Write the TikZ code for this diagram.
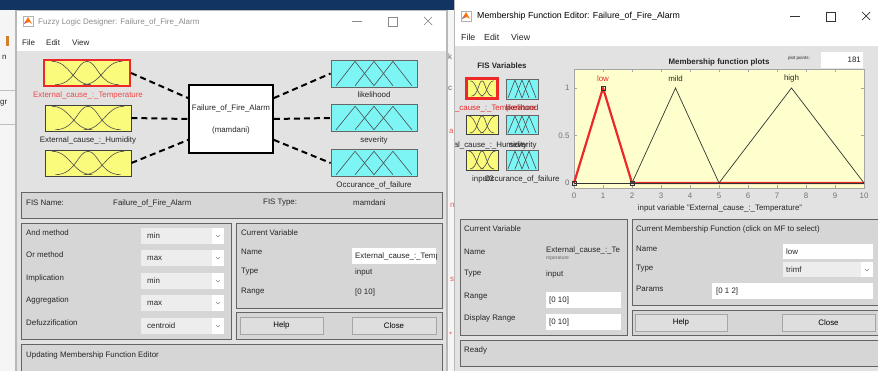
\documentclass[tikz,border=0pt]{standalone}
\usepackage{fontspec}
\setmainfont{Liberation Sans}
\usetikzlibrary{calc}
\definecolor{navy}{RGB}{18,52,98}
\definecolor{bodygray}{RGB}{226,226,226}
\definecolor{panelgray}{RGB}{214,214,214}
\definecolor{edgegray}{RGB}{100,100,100}
\definecolor{mfyellow}{RGB}{250,250,125}
\definecolor{mfcyan}{RGB}{125,245,245}
\definecolor{plotbg}{RGB}{255,255,206}
\definecolor{selred}{RGB}{236,40,40}
\def\uif{\fontsize{7.9}{9}\selectfont}
\def\lbarf{\fontsize{8}{10}\selectfont}
\def\rbarf{\fontsize{8.8}{10}\selectfont}
\def\inicon(#1,#2,#3,#4){\begin{scope}[shift={(#1,#4)}, xscale={#3-#1}, yscale={#2-#4}]
	\draw[curve] (0.08,0.95) .. controls (0.3,0.95) and (0.32,0.05) .. (0.55,0.05);
	\draw[curve] (0.12,0.05) .. controls (0.36,0.05) and (0.38,0.95) .. (0.5,0.95) .. controls (0.62,0.95) and (0.64,0.05) .. (0.88,0.05);
	\draw[curve] (0.45,0.05) .. controls (0.68,0.05) and (0.7,0.95) .. (0.92,0.95);
	\end{scope}}
\def\outicon(#1,#2,#3,#4){\begin{scope}[shift={(#1,#4)}, xscale={#3-#1}, yscale={#2-#4}]
	\draw[curve] (0.06,0.05) -- (0.28,0.95) -- (0.5,0.05);
	\draw[curve] (0.28,0.05) -- (0.5,0.95) -- (0.72,0.05);
	\draw[curve] (0.5,0.05) -- (0.72,0.95) -- (0.94,0.05);
	\end{scope}}
\def\chev(#1,#2){\draw[black!45, line width=0.5pt] (#1-2,#2-1) -- (#1,#2+1) -- (#1+2,#2-1);}
\def\mlogo(#1,#2){\fill[white] (#1-5,#2-5) rectangle (#1+5,#2+5);
	\draw[black!30] (#1-5,#2-5) rectangle (#1+5,#2+5);
	\fill[orange!90!red] (#1-4,#2+3) -- (#1,#2-4) -- (#1+4,#2+3) -- (#1+1,#2+1) -- cycle;
	\fill[blue!60] (#1-4,#2+3) -- (#1-1,#2) -- (#1-3,#2+1) -- cycle;}

\tikzset{
	txt/.style={anchor=west, inner sep=0pt, font=\uif, text=black!85},
	ctxt/.style={inner sep=0pt, font=\uif, text=black!85},
	panel/.style={draw=edgegray, fill=panelgray, line width=0.9pt},
	editbox/.style={fill=white},
	popbox/.style={fill=black!7},
	btn/.style={draw=black!35, fill=black!13, line width=0.9pt},
	inbox/.style={draw=black!75, fill=mfyellow, line width=0.8pt, inner sep=0pt},
	outbox/.style={draw=black!60, fill=mfcyan, line width=0.8pt, inner sep=0pt},
	curve/.style={draw=black!70, line width=0.6pt},
	conn/.style={line width=2pt, dash pattern=on 6pt off 4pt},
	sel/.style={draw=selred, line width=2.2pt},
	frag/.style={anchor=west, inner sep=0pt, font=\uif, text=selred!80},
}

\begin{document}
\begin{tikzpicture}[x=1pt, y=-1pt]
	\useasboundingbox (0,0) rectangle (878,371);
	%%%%% BACKGROUND %%%%%
	\fill[black!4] (0,0) rectangle (878,371);
	\fill[navy] (0,0) rectangle (455,10);
	\fill[brown!70!orange] (6,36) rectangle (9,46);
	\draw[black!25] (0,90) -- (15,90);
	\draw[black!25] (0,124) -- (15,124);
	\node[txt] (bgn) at (2,57) {n};
	\node[txt] (bggr) at (0,103) {gr};
	
	%%%%% FUZZY LOGIC DESIGNER %%%%%
	\fill[black!28] (15,10) rectangle (448,371);
	\fill[white] (17,11) rectangle (446,51);
	\fill[bodygray] (17,51) rectangle (446,371);
	\mlogo(28,21)
	\node[txt, font=\lbarf, text=black!45] (ltitle) at (38,22) {Fuzzy Logic Designer: Failure\_of\_Fire\_Alarm};
	\draw[black!45, line width=0.7pt] (352,21) -- (362,21);
	\draw[black!45, line width=0.7pt] (388,17) rectangle (397,26);
	\draw[black!45, line width=0.7pt] (424,17) -- (432,25) (424,25) -- (432,17);
	\node[txt, font=\lbarf] (lfile) at (22,43) {File};
	\node[txt, font=\lbarf] (ledit) at (46,43) {Edit};
	\node[txt, font=\lbarf] (lview) at (72,43) {View};
	
	% system diagram
	\node[inbox, sel, fill=mfyellow, minimum width=86, minimum height=26] (in1) at (87,73) {};
	\node[inbox, minimum width=86, minimum height=26] (in2) at (88,118) {};
	\node[inbox, minimum width=86, minimum height=26] (in3) at (88,163) {};
	\inicon(45,60,129,86)
	\inicon(45,105,131,131)
	\inicon(45,150,131,176)
	\node[outbox, minimum width=86, minimum height=27] (out1) at (374,73.5) {};
	\node[outbox, minimum width=86, minimum height=27] (out2) at (374,118) {};
	\node[outbox, minimum width=86, minimum height=27] (out3) at (374,163) {};
	\outicon(331,60,417,87)
	\outicon(331,105,417,131)
	\outicon(331,150,417,176)
	\node[draw, fill=white, line width=1.6pt, minimum width=84, minimum height=68] (sys) at (231,119) {};
	\node[ctxt] (sysname) at (231,108) {Failure\_of\_Fire\_Alarm};
	\node[ctxt] (systype) at (231,130) {(mamdani)};
	\coordinate (sysw1) at ($(sys.north west)!0.2!(sys.south west)$);
	\coordinate (sysw3) at ($(sys.north west)!0.8!(sys.south west)$);
	\coordinate (syse1) at ($(sys.north east)!0.2!(sys.south east)$);
	\coordinate (syse3) at ($(sys.north east)!0.8!(sys.south east)$);
	\draw[conn] (in1.east) -- (sysw1);
	\draw[conn] (in2.east) -- (sys.west);
	\draw[conn] (in3.east) -- (sysw3);
	\draw[conn] (syse1) -- (out1.west);
	\draw[conn] (sys.east) -- (out2.west);
	\draw[conn] (syse3) -- (out3.west);
	\node[ctxt, text=selred!85] (in1lab) at (88,95) {External\_cause\_:\_Temperature};
	\node[ctxt] (in2lab) at (88,140) {External\_cause\_:\_Humidity};
	\node[ctxt] (out1lab) at (374,95) {likelihood};
	\node[ctxt] (out2lab) at (374,140) {severity};
	\node[ctxt] (out3lab) at (374,185) {Occurance\_of\_failure};
	
	% FIS panel
	\draw[panel] (21,192) rectangle (442,218);
	\node[txt] (fisname) at (26,203) {FIS Name:};
	\node[txt] (fisnamev) at (113,203) {Failure\_of\_Fire\_Alarm};
	\node[txt] (fistype) at (263,203) {FIS Type:};
	\node[txt] (fistypev) at (353,203) {mamdani};
	
	% methods
	\draw[panel] (21,223) rectangle (231,339);
	\foreach \y/\m/\v in {233/And method/min, 255/Or method/max, 278/Implication/min, 300/Aggregation/max, 323/Defuzzification/centroid} {
		\node[txt] at (26,\y) {\m};
		\fill[popbox] (141,\y-5) rectangle (224,\y+11);
		\fill[white] (212,\y-5) rectangle (224,\y+11);
		\chev(218,\y+3)
		\node[txt] at (147,\y+3) {\v};
	}
	
	% current variable
	\draw[panel] (236,223) rectangle (442,308);
	\node[txt] (lcv) at (241,233) {Current Variable};
	\node[txt] (lcvname) at (241,252) {Name};
	\node[txt] (lcvtype) at (241,272) {Type};
	\node[txt] (lcvrange) at (241,292) {Range};
	\fill[editbox] (352,248) rectangle (436,264);
	\begin{scope}
		\clip (352,248) rectangle (436,264);
		\node[txt] (lcvnamev) at (355,256) {External\_cause\_:\_Temperature};
	\end{scope}
	\node[txt] (lcvtypev) at (355,272) {input};
	\node[txt] (lcvrangev) at (355,292) {[0 10]};
	
	% buttons
	\draw[panel] (236,312) rectangle (442,339);
	\node[btn, minimum width=83, minimum height=17, font=\uif] (lhelp) at (281.5,325.5) {Help};
	\node[btn, minimum width=84, minimum height=17, font=\uif] (lclose) at (394,325.5) {Close};
	
	% status
	\draw[panel] (21,344) rectangle (442,375);
	\node[txt] (lstatus) at (26,355) {Updating Membership Function Editor};
	
	%%%%% BEHIND %%%%%
	\node[txt, text=black!60] (bgk) at (448,57) {k};
	\node[txt, text=black!60] (bgc) at (448,88) {c};
	\node[frag] (bga) at (449,131) {a};
	\node[frag] (bgn2) at (450,205) {n};
	\node[frag] (bgs) at (450,279) {s};
	\node[frag] (bgst) at (449,335) {*};
	
	%%%%% MEMBERSHIP FUNCTION EDITOR %%%%%
	\fill[black!28] (454,0) rectangle (878,371);
	\fill[white] (455,0) rectangle (878,46);
	\fill[bodygray] (455,46) rectangle (878,371);
	\mlogo(466,16)
	\node[txt, font=\rbarf, text=black] (rtitle) at (477,16) {Membership Function Editor: Failure\_of\_Fire\_Alarm};
	\draw[black!80, line width=0.7pt] (790,16) -- (800,16);
	\draw[black!80, line width=0.7pt] (826,12) rectangle (835,21);
	\draw[black!80, line width=0.7pt] (862,12) -- (870,20) (862,20) -- (870,12);
	\node[txt, font=\rbarf] (rfile) at (461,37) {File};
	\node[txt, font=\rbarf] (redit) at (484,37) {Edit};
	\node[txt, font=\rbarf] (rview) at (511,37) {View};
	
	% FIS variables
	\node[ctxt, font=\uif\bfseries] (fisvars) at (502,66) {FIS Variables};
	\node[inbox, sel, minimum width=31, minimum height=20] (vin1) at (482,88.5) {};
	\node[inbox, minimum width=32, minimum height=19] (vin2) at (482,124.5) {};
	\node[inbox, minimum width=32, minimum height=20] (vin3) at (482,160) {};
	\node[outbox, minimum width=32, minimum height=20] (vout1) at (522,89) {};
	\node[outbox, minimum width=32, minimum height=19] (vout2) at (522,124.5) {};
	\node[outbox, minimum width=32, minimum height=20] (vout3) at (522,160) {};
	\inicon(468,80,496,97)
	\inicon(466,115,498,134)
	\inicon(466,150,498,170)
	\outicon(506,79,538,99)
	\outicon(506,115,538,134)
	\outicon(506,150,538,170)
	\begin{scope}
		\clip (455,0) rectangle (878,371);
		\node[ctxt, text=selred] (vin1lab) at (481,108) {External\_cause\_:\_Temperature};
		\node[ctxt, text=selred!60!black] (vout1lab) at (522,108) {likelihood};
		\node[ctxt] (vin2lab) at (479,145) {External\_cause\_:\_Humidity};
		\node[ctxt] (vout2lab) at (523,145) {severity};
		\node[ctxt] (vin3lab) at (483,179) {input3};
		\node[ctxt] (vout3lab) at (522,179) {Occurance\_of\_failure};
	\end{scope}
	
	% plot
	\node[ctxt, font=\uif\bfseries] (plottitle) at (719,62) {Membership function plots};
	\node[ctxt, font=\fontsize{4.5}{5}\selectfont] (ptslab) at (799,58) {plot points:};
	\fill[editbox] (821,52) rectangle (863,68);
	\node[ctxt, anchor=east] (ptsval) at (861,60) {181};
	\draw[black!35, fill=plotbg] (574,69) rectangle (864,188);
	\begin{scope}[shift={(574,183)}, xscale=29, yscale=-95]
		\foreach \k in {0,...,10} {
			\draw[black!35] (\k,-0.05) -- ++(0,0.03);
			\draw[black!35] (\k,1.2) -- ++(0,-0.03);
			\node[ctxt, text=black!55] at (\k,-0.137) {\k};
		}
		\foreach \v in {0,0.5,1} {
			\draw[black!35] (0,\v) -- ++(0.1,0);
			\draw[black!35] (10,\v) -- ++(-0.1,0);
			\node[ctxt, anchor=east, text=black!55] at (-0.15,\v) {\v};
		}
		\draw[selred, line width=2.2pt, line join=round] (0,0) -- (1,1) -- (2,0) -- (10,0);
		\draw[black!80, line width=0.7pt] (0,0) -- (10,0);
		\draw[black!80, line width=0.7pt] (2,0) -- (3.5,1) -- (5,0) -- (7.5,1) -- (10,0);
		\foreach \p in {(0,0),(1,1),(2,0)}
			\node[draw=black!80, line width=0.6pt, minimum size=4pt, inner sep=0pt] at \p {};
		\node[ctxt, text=selred] (mflow) at (1,1.1) {low};
		\node[ctxt] (mfmild) at (3.5,1.1) {mild};
		\node[ctxt] (mfhigh) at (7.5,1.1) {high};
	\end{scope}
	\node[ctxt] (xlab) at (720,208) {input variable "External\_cause\_:\_Temperature"};
	
	% current variable
	\draw[panel] (460,219) rectangle (627,335);
	\node[txt] (rcv) at (464,229) {Current Variable};
	\node[txt] (rcvname) at (464,252) {Name};
	\node[txt] (rcvnamev) at (546,250) {External\_cause\_:\_Te};
	\node[txt, font=\fontsize{5}{5}\selectfont, text=black!60] (rcvnamev2) at (546,258) {mperature};
	\node[txt] (rcvtype) at (464,274) {Type};
	\node[txt] (rcvtypev) at (546,274) {input};
	\node[txt] (rcvrange) at (464,297) {Range};
	\fill[editbox] (546,292) rectangle (621,308);
	\node[txt] (rcvrangev) at (549,300) {[0 10]};
	\node[txt] (rcvdisp) at (464,318) {Display Range};
	\fill[editbox] (546,314) rectangle (621,330);
	\node[txt] (rcvdispv) at (549,322) {[0 10]};
	
	% current membership function
	\draw[panel] (632,219) rectangle (880,305);
	\node[txt] (rmf) at (636,229) {Current Membership Function (click on MF to select)};
	\node[txt] (rmfname) at (636,249) {Name};
	\fill[editbox] (783,244) rectangle (873,259);
	\node[txt] (rmfnamev) at (786,252) {low};
	\node[txt] (rmftype) at (636,269) {Type};
	\fill[popbox] (783,262) rectangle (873,277);
	\fill[white] (861,262) rectangle (873,277);
	\chev(867,270)
	\node[txt] (rmftypev) at (786,270) {trimf};
	\node[txt] (rmfparams) at (636,289) {Params};
	\fill[editbox] (712,283) rectangle (873,299);
	\node[txt] (rmfparamsv) at (716,291) {[0 1 2]};
	
	% buttons
	\draw[panel] (632,310) rectangle (880,335);
	\node[btn, minimum width=92, minimum height=17, font=\uif] (rhelp) at (681,322.5) {Help};
	\node[btn, minimum width=93, minimum height=17, font=\uif] (rclose) at (828.5,322.5) {Close};
	
	% status
	\draw[panel] (460,340) rectangle (880,366);
	\node[txt] (rstatus) at (464,350) {Ready};
\end{tikzpicture}
\end{document}
